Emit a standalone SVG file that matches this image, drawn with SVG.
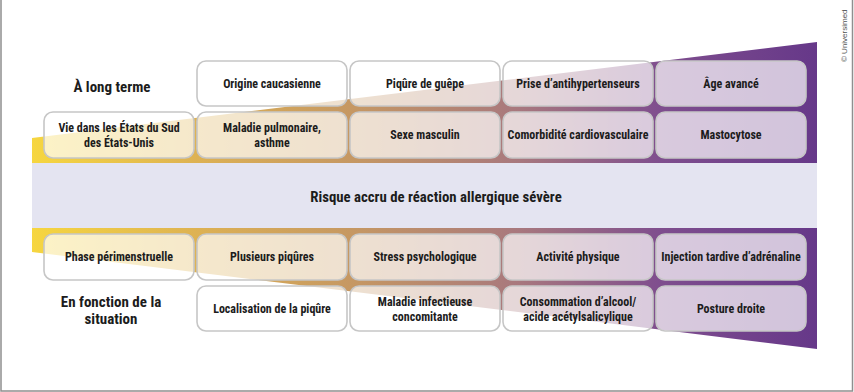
<svg xmlns="http://www.w3.org/2000/svg" width="854" height="392" viewBox="0 0 854 392">
  <defs>
    <linearGradient id="risk" gradientUnits="userSpaceOnUse" x1="32" y1="0" x2="817" y2="0">
      <stop offset="0" stop-color="#f6d640"/>
      <stop offset="0.22" stop-color="#dcb054"/>
      <stop offset="0.42" stop-color="#c49664"/>
      <stop offset="0.62" stop-color="#a8787e"/>
      <stop offset="0.8" stop-color="#7f4e8e"/>
      <stop offset="1" stop-color="#663889"/>
    </linearGradient>
    <style>
      .box { fill: #ffffff; fill-opacity: 0.7; stroke: #c6c6c6; stroke-width: 1.6; }
      .t { font-family: "Liberation Sans Narrow", "Roboto Condensed", "DejaVu Sans Condensed", "Liberation Sans", sans-serif; font-weight: bold; font-size: 12px; fill: #1c1c1c; text-anchor: middle; }
      .head { font-size: 15px; }
      .center { font-size: 14.8px; }
      .copy { font-family: "Liberation Sans", Arial, sans-serif; font-size: 8px; fill: #555; }
    </style>
  </defs>

  <rect x="0" y="0" width="854" height="392" fill="#ffffff"/>
  <path d="M1 0 V391 H852.5 V0" fill="none" stroke="#8f8f8f" stroke-width="1.5"/>

  <g id="risk-shape">
    <polygon points="32,138 817,42 817,163 32,163" fill="url(#risk)"/>
    <rect x="32" y="163" width="785" height="65" fill="#e4e4f1"/>
    <polygon points="32,228 817,228 817,349 32,252" fill="url(#risk)"/>
  </g>

  <g id="labels">
    <text class="t head" x="112" y="92">À long terme</text>
    <text class="t head" x="111" y="307">En fonction de la</text>
    <text class="t head" x="111" y="324">situation</text>
    <text class="t center" x="436" y="202">Risque accru de réaction allergique sévère</text>
  </g>

  <g id="n-origine"><rect class="box" x="197" y="61" width="150" height="45" rx="9"/><text class="t" x="272" y="88">Origine caucasienne</text></g>
  <g id="n-piqure-guepe"><rect class="box" x="350" y="61" width="150" height="45" rx="9"/><text class="t" x="425" y="88">Piqûre de guêpe</text></g>
  <g id="n-antihyp"><rect class="box" x="503" y="61" width="150" height="45" rx="9"/><text class="t" x="578" y="88">Prise d’antihypertenseurs</text></g>
  <g id="n-age"><rect class="box" x="656" y="61" width="150" height="45" rx="9"/><text class="t" x="731" y="88">Âge avancé</text></g>

  <g id="n-etats"><rect class="box" x="44" y="112" width="150" height="46" rx="9"/><text class="t" x="119" y="132">Vie dans les États du Sud</text><text class="t" x="119" y="147">des États-Unis</text></g>
  <g id="n-pulmo"><rect class="box" x="197" y="112" width="150" height="46" rx="9"/><text class="t" x="272" y="132">Maladie pulmonaire,</text><text class="t" x="272" y="147">asthme</text></g>
  <g id="n-sexe"><rect class="box" x="350" y="112" width="150" height="46" rx="9"/><text class="t" x="425" y="139">Sexe masculin</text></g>
  <g id="n-comorb"><rect class="box" x="503" y="112" width="150" height="46" rx="9"/><text class="t" x="578" y="139">Comorbidité cardiovasculaire</text></g>
  <g id="n-masto"><rect class="box" x="656" y="112" width="150" height="46" rx="9"/><text class="t" x="731" y="139">Mastocytose</text></g>

  <g id="n-phase"><rect class="box" x="44" y="234" width="150" height="46" rx="9"/><text class="t" x="119" y="261">Phase périmenstruelle</text></g>
  <g id="n-plusieurs"><rect class="box" x="197" y="234" width="150" height="46" rx="9"/><text class="t" x="272" y="261">Plusieurs piqûres</text></g>
  <g id="n-stress"><rect class="box" x="350" y="234" width="150" height="46" rx="9"/><text class="t" x="425" y="261">Stress psychologique</text></g>
  <g id="n-activite"><rect class="box" x="503" y="234" width="150" height="46" rx="9"/><text class="t" x="578" y="261">Activité physique</text></g>
  <g id="n-injection"><rect class="box" x="656" y="234" width="150" height="46" rx="9"/><text class="t" x="731" y="261">Injection tardive d’adrénaline</text></g>

  <g id="n-localisation"><rect class="box" x="197" y="286" width="150" height="45" rx="9"/><text class="t" x="272" y="313">Localisation de la piqûre</text></g>
  <g id="n-infect"><rect class="box" x="350" y="286" width="150" height="45" rx="9"/><text class="t" x="425" y="306">Maladie infectieuse</text><text class="t" x="425" y="321">concomitante</text></g>
  <g id="n-alcool"><rect class="box" x="503" y="286" width="150" height="45" rx="9"/><text class="t" x="578" y="306">Consommation d’alcool/</text><text class="t" x="578" y="321">acide acétylsalicylique</text></g>
  <g id="n-posture"><rect class="box" x="656" y="286" width="150" height="45" rx="9"/><text class="t" x="731" y="313">Posture droite</text></g>

  <g id="connectors"/>

  <text class="copy" transform="translate(847,62) rotate(-90)">© Universimed</text>
</svg>
